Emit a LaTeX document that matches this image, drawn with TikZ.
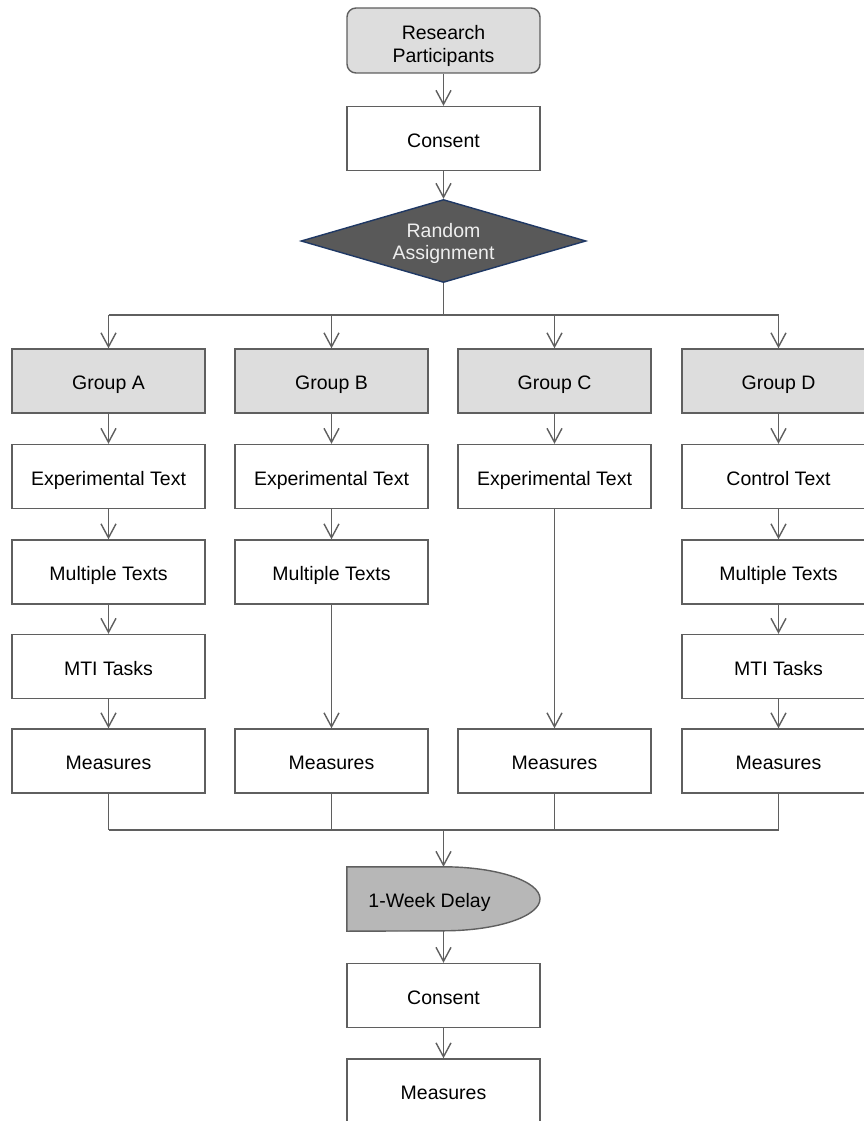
\documentclass[tikz,border=0pt]{standalone}
\usepackage{fontspec}
\setmainfont{Liberation Sans}
\usetikzlibrary{arrows.meta,shapes.geometric}

\definecolor{edgegray}{RGB}{95,95,95}
\definecolor{lightfill}{RGB}{221,221,221}
\definecolor{delayfill}{RGB}{183,183,183}
\definecolor{darkfill}{RGB}{89,89,89}
\definecolor{navyedge}{RGB}{31,56,100}
\definecolor{pale}{RGB}{238,238,238}

\tikzset{
  box/.style={draw=edgegray, line width=1.4pt, fill=white, rectangle,
    minimum width=193pt, minimum height=64pt, inner sep=0pt,
    text height=17pt, text depth=0pt,
    font=\fontsize{19.5}{23.5}\selectfont, align=center},
  groupbox/.style={box, fill=lightfill},
  startbox/.style={box, fill=lightfill, rounded corners=9pt, minimum height=65pt,
    text height=45pt},
  decision/.style={diamond, draw=navyedge, line width=1.4pt, fill=darkfill,
    text=pale, aspect=3.43, minimum width=285pt, minimum height=83pt,
    inner sep=0pt, text height=36pt, text depth=0pt,
    font=\fontsize{19.5}{22}\selectfont, align=center},
  link/.style={draw=edgegray, line width=1.4pt},
  arr/.style={link, -{Straight Barb[length=14pt,width=15pt]}},
}

\begin{document}
\begin{tikzpicture}[x=1pt, y=-1pt]
  \useasboundingbox (0,0) rectangle (864,1121);

  % main column
  \node[startbox] (rp) at (443.5,40.5) {Research\\Participants};
  \node[box] (cons1) at (443.5,138.5) {Consent};
  \node[decision] (ra) at (443.5,241) {Random\\Assignment};

  % four groups
  \foreach \g/\x in {A/108.5, B/331.5, C/554.5, D/778.5} {
    \node[groupbox] (g\g) at (\x,381) {Group \g};
    \node[box] (m\g) at (\x,761) {Measures};
  }
  \node[box] (eA) at (108.5,476.5) {Experimental Text};
  \node[box] (eB) at (331.5,476.5) {Experimental Text};
  \node[box] (eC) at (554.5,476.5) {Experimental Text};
  \node[box] (eD) at (778.5,476.5) {Control Text};
  \node[box] (tA) at (108.5,572) {Multiple Texts};
  \node[box] (tB) at (331.5,572) {Multiple Texts};
  \node[box] (tD) at (778.5,572) {Multiple Texts};
  \node[box] (kA) at (108.5,666.5) {MTI Tasks};
  \node[box] (kD) at (778.5,666.5) {MTI Tasks};

  % after the delay
  \node[minimum width=193pt, minimum height=64pt, inner sep=0pt] (delay) at (443.5,899) {};
  \node[box] (cons2) at (443.5,995.5) {Consent};
  \node[box] (mfin) at (443.5,1091) {Measures};

  % delay shape: flat on the left, half ellipse on the right
  \path[draw=edgegray, line width=1.4pt, fill=delayfill]
    (delay.south west) -- (delay.north west) -- (delay.north)
    arc[start angle=90, end angle=-90, x radius=96.5pt, y radius=32pt] -- cycle;
  \node[text height=17pt, text depth=0pt, inner sep=0pt,
    font=\fontsize{19.5}{23.5}\selectfont] at ([xshift=-14pt]delay.center) {1-Week Delay};

  % connectors
  \coordinate (busTop) at (443.5,315);
  \coordinate (busBot) at (443.5,830);

  \draw[arr] (rp) -- (cons1);
  \draw[arr] (cons1) -- (ra);
  \draw[link] (ra.south) -- (busTop);
  \draw[link] (gA.north |- busTop) -- (gD.north |- busTop);
  \foreach \g in {A,B,C,D} {
    \draw[arr] (g\g.north |- busTop) -- (g\g.north);
    \draw[link] (m\g.south) -- (m\g.south |- busBot);
  }
  \draw[link] (mA.south |- busBot) -- (mD.south |- busBot);

  \draw[arr] (gA) -- (eA);
  \draw[arr] (eA) -- (tA);
  \draw[arr] (tA) -- (kA);
  \draw[arr] (kA) -- (mA);

  \draw[arr] (gB) -- (eB);
  \draw[arr] (eB) -- (tB);
  \draw[arr] (tB) -- (mB);

  \draw[arr] (gC) -- (eC);
  \draw[arr] (eC) -- (mC);

  \draw[arr] (gD) -- (eD);
  \draw[arr] (eD) -- (tD);
  \draw[arr] (tD) -- (kD);
  \draw[arr] (kD) -- (mD);

  \draw[arr] (busBot) -- (delay.north);
  \draw[arr] (delay.south) -- (cons2);
  \draw[arr] (cons2) -- (mfin);
\end{tikzpicture}
\end{document}
